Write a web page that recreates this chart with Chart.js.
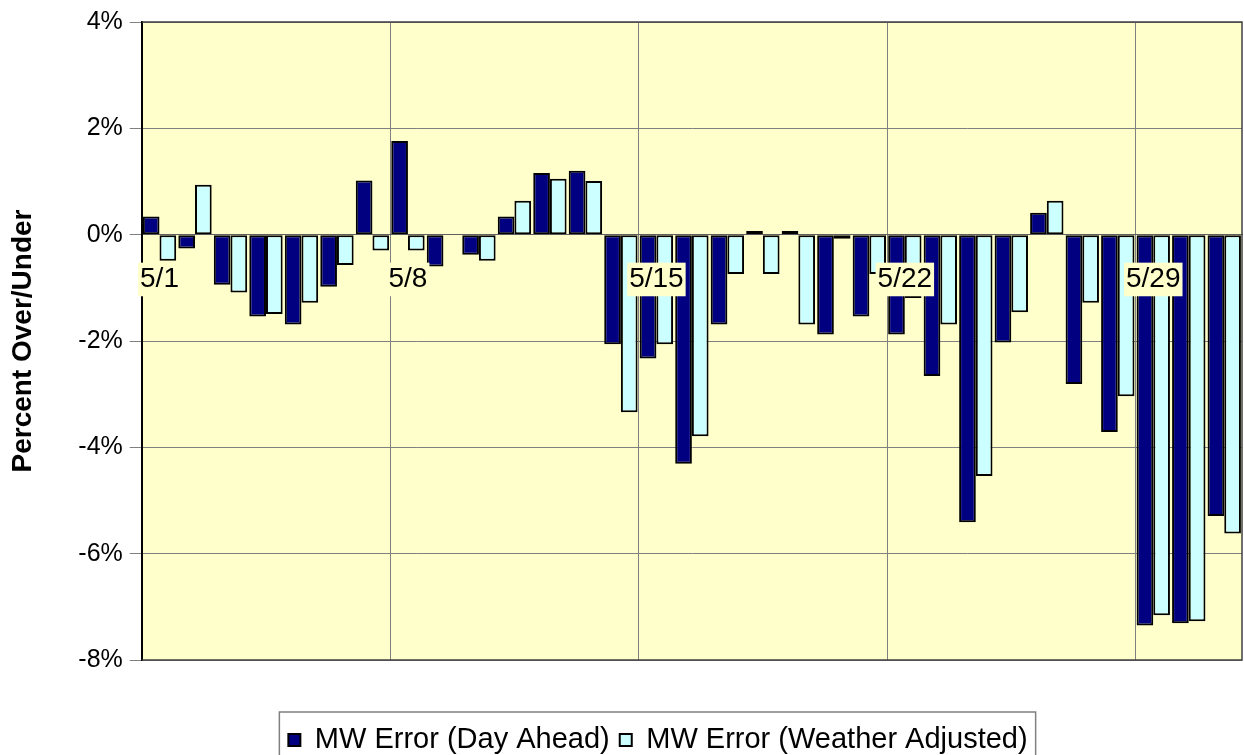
<!DOCTYPE html>
<html>
<head>
<meta charset="utf-8">
<script src="https://cdn.jsdelivr.net/npm/chart.js@4.4.1/dist/chart.umd.min.js"></script>
<style>
  html, body { margin: 0; padding: 0; background: #ffffff; }
  canvas { display: block; }
</style>
</head>
<body>
<canvas id="chart" width="1244" height="755"></canvas>
<script>
// Daily load forecast error for May, in percent over/under actual
const days = [
  '5/1','5/2','5/3','5/4','5/5','5/6','5/7',
  '5/8','5/9','5/10','5/11','5/12','5/13','5/14',
  '5/15','5/16','5/17','5/18','5/19','5/20','5/21',
  '5/22','5/23','5/24','5/25','5/26','5/27','5/28',
  '5/29','5/30','5/31'
];
const dayAhead = [
  0.34, -0.26, -0.94, -1.54, -1.69, -0.98, 1.02,
  1.76, -0.60, -0.38, 0.34, 1.16, 1.20, -2.06,
  -2.33, -4.31, -1.69, 0.07, 0.07, -1.88, -1.54,
  -1.88, -2.66, -5.41, -2.03, 0.41, -2.81, -3.71,
  -7.35, -7.31, -5.29
];
const weatherAdjusted = [
  -0.49, 0.94, -1.09, -1.49, -1.28, -0.57, -0.30,
  -0.30, 0.00, -0.49, 0.64, 1.05, 1.01, -3.34,
  -2.06, -3.79, -0.74, -0.74, -1.69, -0.075, -0.74,
  -1.19, -1.69, -4.54, -1.46, 0.64, -1.28, -3.04,
  -7.16, -7.27, -5.62
];
const seriesNames = ['MW Error (Day Ahead)', 'MW Error (Weather Adjusted)'];
const yAxisTitle = 'Percent Over/Under';
const labelEvery = 7;

const FONT = "'Liberation Sans', Arial, Helvetica, sans-serif";
const PLOT_BG = '#FFFFCC';
const GRID = '#808080';

// Pale yellow plot background plus a frame on the top, right and bottom edges
const plotFrame = {
  id: 'plotFrame',
  beforeDraw(chart) {
    const { ctx, chartArea: a } = chart;
    ctx.save();
    ctx.fillStyle = PLOT_BG;
    ctx.fillRect(a.left, a.top, a.right - a.left, a.bottom - a.top);
    ctx.restore();
  },
  beforeDatasetsDraw(chart) {
    const { ctx, chartArea: a } = chart;
    ctx.save();
    ctx.strokeStyle = '#404040';
    ctx.lineWidth = 1.5;
    ctx.beginPath();
    ctx.moveTo(a.left, a.top);
    ctx.lineTo(a.right, a.top);
    ctx.lineTo(a.right, a.bottom);
    ctx.lineTo(a.left, a.bottom);
    ctx.stroke();
    ctx.restore();
  }
};

// Places the legend row and draws a box around it
const legendFrame = {
  id: 'legendFrame',
  afterLayout(chart, args, opts) {
    const lg = chart.legend;
    if (!lg) return;
    const dx = opts.centerX - (lg.left + lg.right) / 2;
    const dy = opts.top - lg.top;
    lg.left += dx; lg.right += dx;
    lg.top += dy; lg.bottom += dy;
  },
  afterDraw(chart, args, opts) {
    const lg = chart.legend;
    const hb = lg && lg.legendHitBoxes;
    if (!hb || !hb.length) return;
    const first = hb[0], last = hb[hb.length - 1];
    const cy = first.top + first.height / 2;
    const { ctx } = chart;
    ctx.save();
    ctx.strokeStyle = GRID;
    ctx.lineWidth = 1.5;
    ctx.strokeRect(first.left - 9, cy - 28, last.left + last.width - first.left + 17, 120);
    ctx.restore();
  }
};

new Chart(document.getElementById('chart'), {
  type: 'bar',
  data: {
    labels: days,
    datasets: [
      {
        label: seriesNames[0],
        data: dayAhead,
        backgroundColor: '#000080',
        borderColor: '#000000',
        borderWidth: 2,
        borderSkipped: false,
        categoryPercentage: 0.94,
        barPercentage: 1.0
      },
      {
        label: seriesNames[1],
        data: weatherAdjusted,
        backgroundColor: '#CCFFFF',
        borderColor: '#000000',
        borderWidth: 2,
        borderSkipped: false,
        categoryPercentage: 0.94,
        barPercentage: 1.0
      }
    ]
  },
  options: {
    responsive: false,
    animation: false,
    events: [],
    layout: { padding: { left: 4, right: 2, top: 19.5, bottom: 46 } },
    plugins: {
      legend: {
        position: 'bottom',
        fullSize: false,
        labels: {
          font: { family: FONT, size: 29 },
          color: '#000000',
          boxWidth: 12,
          boxHeight: 12,
          padding: 10
        }
      },
      tooltip: { enabled: false },
      legendFrame: { centerX: 658, top: 715.5 }
    },
    scales: {
      x: {
        position: { y: 0 },
        offset: true,
        grid: {
          offset: true,
          color: c => (c.index % labelEvery === 0 ? GRID : 'rgba(0,0,0,0)'),
          lineWidth: 1,
          drawTicks: true,
          tickLength: 28
        },
        border: { display: true, color: '#606060', width: 1 },
        ticks: {
          autoSkip: false,
          maxRotation: 0,
          minRotation: 0,
          padding: 0,
          z: 1,
          font: { family: FONT, size: 28 },
          color: '#000000',
          callback: (v, i) => (i % labelEvery === 0 ? days[i] : ''),
          showLabelBackdrop: true,
          backdropColor: c => (c.index % labelEvery === 0 ? PLOT_BG : 'rgba(0,0,0,0)'),
          backdropPadding: { x: 2, y: 0 }
        }
      },
      y: {
        min: -8,
        max: 4,
        ticks: {
          stepSize: 2,
          callback: v => v + '%',
          font: { family: FONT, size: 25 },
          color: '#000000',
          padding: 7
        },
        grid: { color: GRID, lineWidth: 1, tickLength: 12 },
        border: { color: '#000000', width: 2 },
        title: {
          display: true,
          text: yAxisTitle,
          font: { family: FONT, size: 28, weight: 'bold' },
          color: '#000000',
          padding: { top: 2.2, bottom: 31.5 }
        }
      }
    }
  },
  plugins: [plotFrame, legendFrame]
});
</script>
</body>
</html>
